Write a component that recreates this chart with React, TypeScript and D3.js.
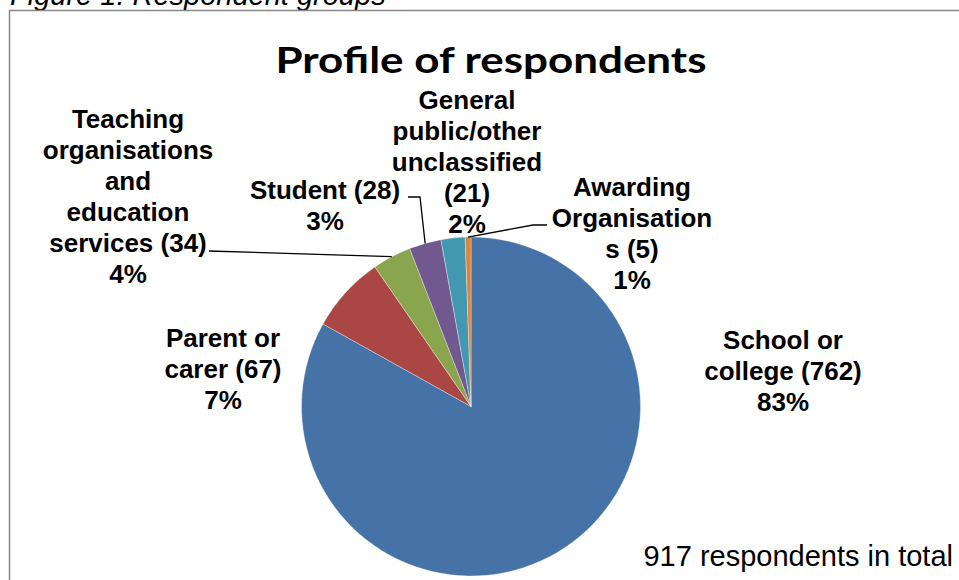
import React from 'react';
import * as d3 from 'd3';

const categories = [
  'School or college',
  'Parent or carer',
  'Teaching organisations and education services',
  'Student',
  'General public/other unclassified',
  'Awarding Organisations',
];
const values = [762, 67, 34, 28, 21, 5];
const colors = ['#4572A7', '#AA4643', '#89A54E', '#71588F', '#4198AF', '#DB843D'];
const labelLines = [
  ['School or', 'college (762)', '83%'],
  ['Parent or', 'carer (67)', '7%'],
  ['Teaching', 'organisations', 'and', 'education', 'services (34)', '4%'],
  ['Student (28)', '3%'],
  ['General', 'public/other', 'unclassified', '(21)', '2%'],
  ['Awarding', 'Organisation', 's (5)', '1%'],
];
const labelAnchors = [
  [783, 349],
  [223, 347],
  [128, 128],
  [325, 199],
  [467, 109],
  [632, 196],
];
const leaderStarts: (number[][] | null)[] = [
  null,
  null,
  [[209, 251]],
  [[408, 197], [420, 197]],
  null,
  [[547, 225], [533, 225]],
];
const title = 'Profile of respondents';
const caption = 'Figure 1: Respondent groups';
const footnote = '917 respondents in total';

export default function App() {
  const W = 959, H = 580;
  const cx = 471, cy = 406.5, r = 169.5;
  const pie = d3.pie<number>().sort(null).value(d => d).startAngle(0).endAngle(Math.PI * 2);
  const arcs = pie(values);
  const arc = d3.arc<d3.PieArcDatum<number>>().innerRadius(0).outerRadius(r);
  const edge = d3.arc<d3.PieArcDatum<number>>().innerRadius(r).outerRadius(r);
  const line = d3.line();
  const lh = 31;
  return (
    <svg width={W} height={H} style={{ position: 'fixed', left: 0, top: 0, background: '#fff' }}>
      <rect x={0} y={0} width={W} height={H} fill="#fff" />
      <text x={10} y={4.5} fontFamily="Liberation Sans, Arial, sans-serif" fontStyle="italic" fontSize={29} fill="#000">{caption}</text>
      <rect x={9.5} y={10.5} width={1200} height={1200} fill="#fff" stroke="#888" strokeWidth={1.5} />
      <text x={491} y={73} textAnchor="middle" fontFamily="Lato, 'Open Sans', sans-serif" fontWeight="bold" fontSize={37}
        textLength={431} lengthAdjust="spacingAndGlyphs" fill="#000">{title}</text>
      <g transform={`translate(${cx},${cy})`}>
        {arcs.map((a, i) => (
          <path key={categories[i]} d={arc(a) || ''} fill={colors[i]} stroke="#fff" strokeWidth={0.5} strokeOpacity={0.7} />
        ))}
      </g>
      {arcs.map((a, i) => {
        const s = leaderStarts[i];
        if (!s) return null;
        const c = edge.centroid(a);
        const pts: [number, number][] = [...s.map(p => [p[0], p[1]] as [number, number]), [cx + c[0], cy + c[1]]];
        return <path key={'l' + i} d={line(pts) || ''} fill="none" stroke="#000" strokeWidth={1.3} />;
      })}
      {labelLines.map((lines, i) => (
        <text key={'t' + i} textAnchor="middle" fontFamily="Liberation Sans, Arial, sans-serif" fontWeight="bold" fontSize={26} fill="#000">
          {lines.map((ln, j) => (
            <tspan key={j} x={labelAnchors[i][0]} y={labelAnchors[i][1] + j * lh}>{ln}</tspan>
          ))}
        </text>
      ))}
      <text x={953} y={566} textAnchor="end" fontFamily="Liberation Sans, Arial, sans-serif" fontSize={29} fill="#000">{footnote}</text>
    </svg>
  );
}
